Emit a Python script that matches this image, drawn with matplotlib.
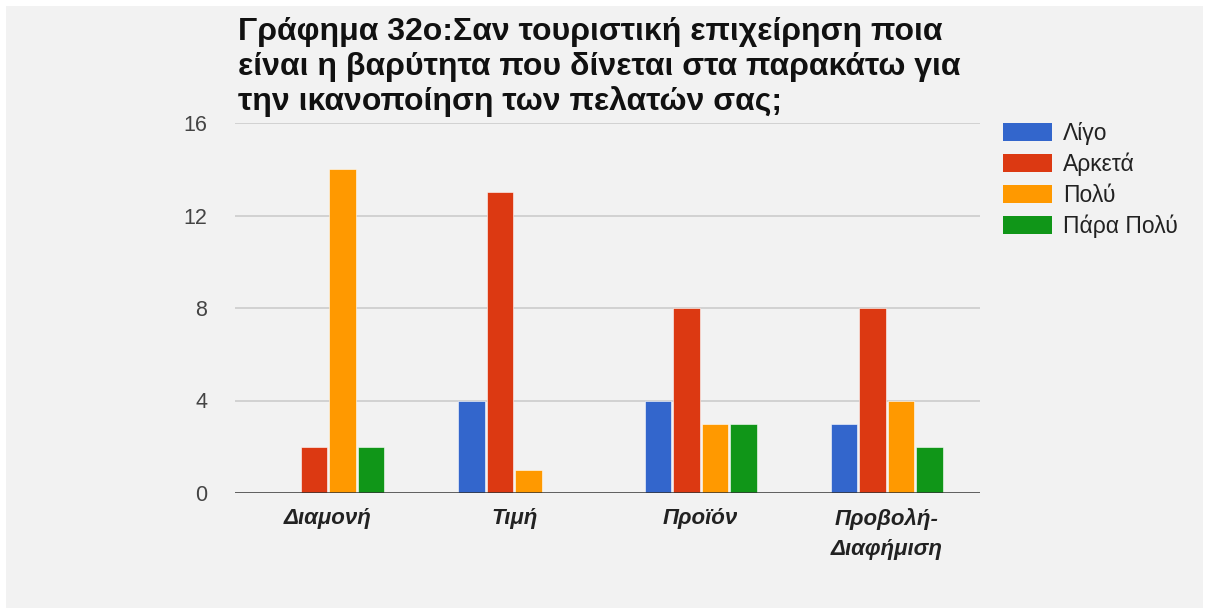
import matplotlib.pyplot as plt
import matplotlib.patches as mpatches
import numpy as np

# data
categories = ['Διαμονή', 'Τιμή', 'Προϊόν', 'Προβολή-\nΔιαφήμιση']
series_names = ['Λίγο', 'Αρκετά', 'Πολύ', 'Πάρα Πολύ']
ligo = [0, 4, 4, 3]
arketa = [2, 13, 8, 8]
poly = [14, 1, 3, 4]
para_poly = [2, 0, 3, 2]
colors = ['#3366cc', '#dc3912', '#ff9900', '#109618']
yticks = [0, 4, 8, 12, 16]
title = 'Γράφημα 32ο:Σαν τουριστική επιχείρηση ποια\nείναι η βαρύτητα που δίνεται στα παρακάτω για\nτην ικανοποίηση των πελατών σας;'

plt.rcParams['font.family'] = ['Liberation Sans', 'DejaVu Sans']

W, H = 1206, 608
fig = plt.figure(figsize=(W / 100, H / 100), dpi=100, facecolor='white')
fig.patches.append(mpatches.Rectangle((6 / W, 0), 1197 / W, 602 / H,
                                      transform=fig.transFigure,
                                      facecolor='#f2f2f2', edgecolor='none', zorder=-5))

ax = fig.add_axes([235 / W, 1 - 493 / H, 745 / W, 370 / H])
ax.set_facecolor('none')

x = np.arange(len(categories))
slot = 0.153
width = 0.143
all_series = [ligo, arketa, poly, para_poly]
for i, (vals, name, c) in enumerate(zip(all_series, series_names, colors)):
    ax.bar(x + (i - 1.5) * slot, vals, width, color=c, label=name,
           edgecolor='white', linewidth=0.4, zorder=3)

ax.set_xlim(-0.5, len(categories) - 0.5)
ax.set_ylim(0, 16)
ax.set_yticks(yticks)
ax.set_yticklabels([str(t) for t in yticks], color='#444444', fontsize=15.5)
ax.tick_params(axis='y', length=0, pad=20)
ax.set_xticks(x)
ax.set_xticklabels(categories, fontsize=16, fontweight='bold', fontstyle='italic',
                   color='#222222', linespacing=1.55)
ax.tick_params(axis='x', length=0, pad=11)
for t in yticks[1:]:
    ax.axhline(t, color='#cccccc', linewidth=1.2, zorder=1)
ax.axhline(0, color='#333333', linewidth=1.8, zorder=4)
for s in ax.spines.values():
    s.set_visible(False)

fig.text(238 / W, 1 - 17 / H, title, fontsize=23, fontweight='bold', color='#111111',
         va='top', ha='left', linespacing=1.2)

handles = [mpatches.Patch(facecolor=c, edgecolor='none') for c in colors]
fig.legend(handles, series_names, loc='upper left', bbox_to_anchor=(982 / W, 1 - 101 / H),
           frameon=False, fontsize=16.5, handlelength=2.15, handleheight=0.85,
           handletextpad=0.48, labelspacing=0.34, labelcolor='#222222')

fig.savefig('out.png', dpi=100, facecolor='white')
